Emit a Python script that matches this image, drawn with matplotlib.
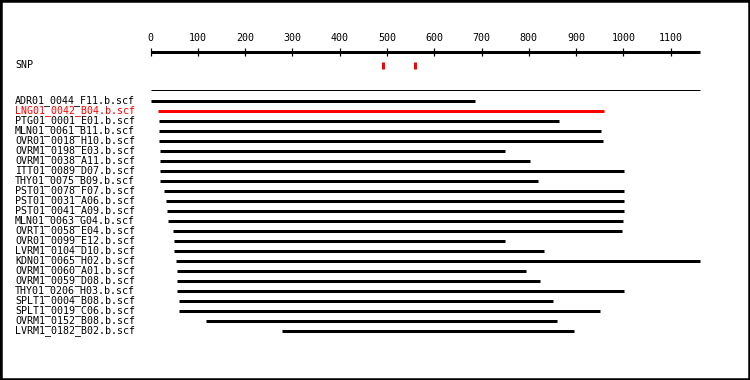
import matplotlib
matplotlib.use("Agg")
import matplotlib.pyplot as plt
from matplotlib.patches import Rectangle

# reads aligned against the reference (positions in bp)
read_names = ["ADR01_0044_F11.b.scf", "LNG01_0042_B04.b.scf", "PTG01_0001_E01.b.scf",
              "MLN01_0061_B11.b.scf", "OVR01_0018_H10.b.scf", "OVRM1_0198_E03.b.scf",
              "OVRM1_0038_A11.b.scf", "ITT01_0089_D07.b.scf", "THY01_0075_B09.b.scf",
              "PST01_0078_F07.b.scf", "PST01_0031_A06.b.scf", "PST01_0041_A09.b.scf",
              "MLN01_0063_G04.b.scf", "OVRT1_0058_E04.b.scf", "OVR01_0099_E12.b.scf",
              "LVRM1_0104_D10.b.scf", "KDN01_0065_H02.b.scf", "OVRM1_0060_A01.b.scf",
              "OVRM1_0059_D08.b.scf", "THY01_0206_H03.b.scf", "SPLT1_0004_B08.b.scf",
              "SPLT1_0019_C06.b.scf", "OVRM1_0152_B08.b.scf", "LVRM1_0182_B02.b.scf"]
read_start = [0, 16, 18, 18, 18, 20, 20, 20, 20, 29, 33, 34,
              37, 48, 50, 50, 54, 56, 56, 56, 60, 60, 117, 278]
read_end = [686, 959, 864, 953, 957, 750, 802, 1001, 819, 1001, 1001, 1001,
            999, 997, 750, 832, 1163, 794, 824, 1001, 851, 950, 860, 895]
highlight = "LNG01_0042_B04.b.scf"

ref_length = 1163
snp_pos = [492, 560]
tick_vals = list(range(0, 1200, 100))

W, H = 750, 380
x0_px, px_per_bp = 150.5, 0.4729
px = 72 / 100  # points per pixel

fig = plt.figure(figsize=(W / 100, H / 100), dpi=100)
ax = fig.add_axes([0, 0, 1, 1])
ax.set_xlim(-x0_px / px_per_bp, (W - x0_px) / px_per_bp)
ax.set_ylim(H, 0)
ax.axis("off")

font = dict(family="DejaVu Sans Mono", fontsize=7.2)
left = ax.get_yaxis_transform()

# ruler
ax.hlines(51.5, 0, ref_length, color="black", lw=3 * px)
ax.vlines(tick_vals, 48, 56, color="black", lw=1.2 * px)
for t in tick_vals:
    ax.text(t, 38, str(t), ha="center", va="center", **font)

# SNP track
ax.text(15 / W, 65, "SNP", transform=left, va="center", **font)
ax.vlines(snp_pos, 61.5, 68.5, color="red", lw=3 * px)

# reference line
ax.hlines(90, 0, ref_length, color="black", lw=1 * px)

# reads
for i, name in enumerate(read_names):
    y = 101 + 10 * i
    c = "red" if name == highlight else "black"
    ax.hlines(y, read_start[i], read_end[i], color=c, lw=3 * px)
    ax.text(15 / W, y, name, transform=left, va="center", color=c, **font)

fig.patches.append(Rectangle((0, 0), 1, 1, transform=fig.transFigure,
                             fill=False, edgecolor="black", lw=4.5 * px))

fig.savefig("out.png", dpi=100)
